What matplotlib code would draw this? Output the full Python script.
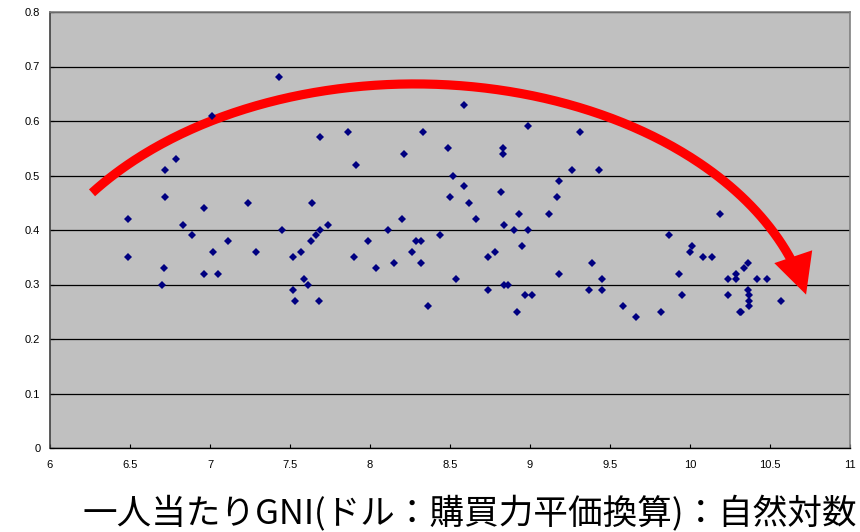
import numpy as np
import matplotlib
matplotlib.use("Agg")
import matplotlib.pyplot as plt
from matplotlib.patches import Polygon
from matplotlib.transforms import IdentityTransform

# ---- data ----
gni_log = [6.49, 6.49, 6.70, 6.71, 6.72, 6.72, 6.79, 6.83, 6.89, 6.96,
           6.96, 7.01, 7.02, 7.05, 7.11, 7.24, 7.29, 7.43, 7.45, 7.52,
           7.52, 7.53, 7.57, 7.59, 7.61, 7.63, 7.64, 7.66, 7.68, 7.69,
           7.69, 7.74, 7.86, 7.90, 7.91, 7.99, 8.04, 8.11, 8.15, 8.20,
           8.21, 8.26, 8.29, 8.32, 8.32, 8.33, 8.36, 8.44, 8.49, 8.50,
           8.52, 8.54, 8.59, 8.59, 8.62, 8.66, 8.74, 8.74, 8.78, 8.82,
           8.83, 8.83, 8.84, 8.84, 8.86, 8.90, 8.92, 8.93, 8.95, 8.97,
           8.99, 8.99, 9.01, 9.12, 9.17, 9.18, 9.18, 9.26, 9.31, 9.37,
           9.39, 9.43, 9.45, 9.45, 9.58, 9.66, 9.82, 9.87, 9.93, 9.95,
           10.00, 10.01, 10.08, 10.14, 10.19, 10.24, 10.24, 10.29, 10.29, 10.31,
           10.32, 10.34, 10.36, 10.36, 10.37, 10.37, 10.37, 10.42, 10.48, 10.57]
values = [0.42, 0.35, 0.30, 0.33, 0.46, 0.51, 0.53, 0.41, 0.39, 0.44,
          0.32, 0.61, 0.36, 0.32, 0.38, 0.45, 0.36, 0.68, 0.40, 0.35,
          0.29, 0.27, 0.36, 0.31, 0.30, 0.38, 0.45, 0.39, 0.27, 0.57,
          0.40, 0.41, 0.58, 0.35, 0.52, 0.38, 0.33, 0.40, 0.34, 0.42,
          0.54, 0.36, 0.38, 0.38, 0.34, 0.58, 0.26, 0.39, 0.55, 0.46,
          0.50, 0.31, 0.48, 0.63, 0.45, 0.42, 0.35, 0.29, 0.36, 0.47,
          0.54, 0.55, 0.41, 0.30, 0.30, 0.40, 0.25, 0.43, 0.37, 0.28,
          0.59, 0.40, 0.28, 0.43, 0.46, 0.49, 0.32, 0.51, 0.58, 0.29,
          0.34, 0.51, 0.31, 0.29, 0.26, 0.24, 0.25, 0.39, 0.32, 0.28,
          0.36, 0.37, 0.35, 0.35, 0.43, 0.31, 0.28, 0.32, 0.31, 0.25,
          0.25, 0.33, 0.34, 0.29, 0.28, 0.27, 0.26, 0.31, 0.31, 0.27]
x_ticks = [6, 6.5, 7, 7.5, 8, 8.5, 9, 9.5, 10, 10.5, 11]
x_tick_labels = ["6", "6.5", "7", "7.5", "8", "8.5", "9", "9.5", "10", "10.5", "11"]
y_ticks = [0, 0.1, 0.2, 0.3, 0.4, 0.5, 0.6, 0.7, 0.8]
y_tick_labels = ["0", "0.1", "0.2", "0.3", "0.4", "0.5", "0.6", "0.7", "0.8"]
x_label = "一人当たりGNI(ドル：購買力平価換算)：自然対数"

# arc annotation (ellipse in data coordinates)
arc_center = (8.28, 0.18)
arc_radii = (2.5, 0.488)
arc_angles = (143.8, 12.0)  # degrees, drawn clockwise

W, H, DPI = 860, 532, 100
fig = plt.figure(figsize=(W / DPI, H / DPI), dpi=DPI)
ax = fig.add_axes([50 / W, (H - 448) / H, 800 / W, 436 / H])
ax.set_facecolor("#C0C0C0")
ax.set_xlim(6, 11)
ax.set_ylim(0, 0.8)

ax.set_xticks(x_ticks)
ax.set_xticklabels(x_tick_labels)
ax.set_yticks(y_ticks)
ax.set_yticklabels(y_tick_labels)
ax.tick_params(axis="both", direction="in", length=3, width=0.8,
               labelsize=8, colors="black")
ax.tick_params(axis="x", pad=9)
ax.tick_params(axis="y", pad=7)
for lab in ax.get_xticklabels() + ax.get_yticklabels():
    lab.set_family("Liberation Sans")

ax.yaxis.grid(True, color="black", linewidth=0.9)
ax.set_axisbelow(True)

for s in ("top", "right"):
    ax.spines[s].set_color("#808080")
    ax.spines[s].set_linewidth(1.2)
ax.spines["left"].set_color("#404040")
ax.spines["left"].set_linewidth(1.2)
ax.spines["bottom"].set_color("black")
ax.spines["bottom"].set_linewidth(1.0)

# --- red arc arrow ---
t = np.radians(np.linspace(arc_angles[0], arc_angles[1], 300))
ex = arc_center[0] + arc_radii[0] * np.cos(t)
ey = arc_center[1] + arc_radii[1] * np.sin(t)
disp = ax.transData.transform(np.column_stack([ex, ey]))
tip = disp[-1]
d = disp[-1] - disp[-4]
d = d / np.hypot(*d)
nrm = np.array([-d[1], d[0]])
head_len, head_w = 40.0, 40.0
base = tip - d * head_len
dist = np.hypot(*(disp - tip).T)
keep = dist > head_len * 0.6
line_pts = disp[keep]
ax.plot(line_pts[:, 0], line_pts[:, 1], color="#FF0000", linewidth=6.6,
        solid_capstyle="butt", transform=IdentityTransform(), zorder=3)
head = Polygon([base + nrm * head_w / 2, tip, base - nrm * head_w / 2],
               closed=True, facecolor="#FF0000", edgecolor="none",
               transform=IdentityTransform(), zorder=3)
ax.add_patch(head)

# --- scatter ---
ax.plot(gni_log, values, linestyle="none", marker="D", markersize=3.8,
        color="#000080", markeredgewidth=0, zorder=4)

fig.text(83 / W, (H - 524.5) / H, x_label, fontsize=24.9,
         family=["Noto Sans CJK JP", "DejaVu Sans"], ha="left", va="baseline")

fig.savefig("out.png", dpi=DPI)
